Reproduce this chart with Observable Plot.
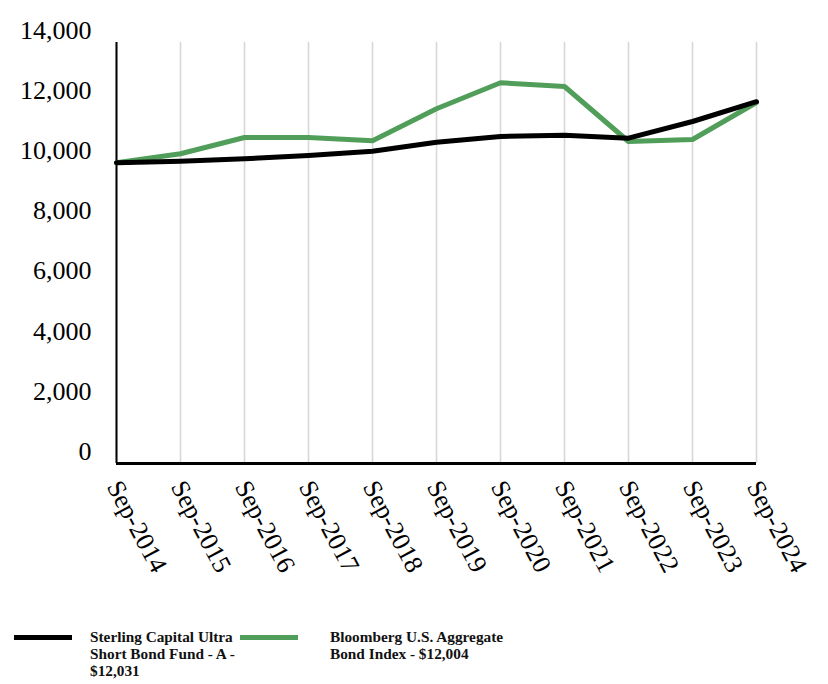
<!DOCTYPE html>
<html>
<head>
<meta charset="utf-8">
<script src="https://cdn.jsdelivr.net/npm/d3@7"></script>
<script src="https://cdn.jsdelivr.net/npm/@observablehq/plot@0.6"></script>
<style>
  html, body { margin: 0; padding: 0; background: #fff; }
  body { position: relative; width: 828px; height: 684px; font-family: "Liberation Serif", "Times New Roman", serif; }
  #chart svg { display: block; }
  .sw { position: absolute; height: 5px; }
  .lt { position: absolute; font-weight: bold; font-size: 15.3px; line-height: 17px; color: #111; white-space: nowrap; font-family: "Liberation Serif", serif; }
</style>
</head>
<body>
<div id="chart"></div>
<div class="sw" style="left:14px; top:635px; width:58px; background:#000;"></div>
<div class="lt" style="left:90px; top:628px;">Sterling Capital Ultra<br>Short Bond Fund - A -<br>$12,031</div>
<div class="sw" style="left:240px; top:635px; width:58px; background:#519e5a;"></div>
<div class="lt" style="left:330px; top:628px;">Bloomberg U.S. Aggregate<br>Bond Index - $12,004</div>
<script>
const dates = ["Sep-2014","Sep-2015","Sep-2016","Sep-2017","Sep-2018","Sep-2019","Sep-2020","Sep-2021","Sep-2022","Sep-2023","Sep-2024"];
const fundValues = [10000, 10053, 10133, 10243, 10386, 10685, 10875, 10918, 10818, 11373, 12031];
const indexValues = [10000, 10300, 10841, 10841, 10732, 11796, 12660, 12537, 10708, 10775, 12004];
const yTicks = [0, 2000, 4000, 6000, 8000, 10000, 12000, 14000];

const fundData = dates.map((d, i) => ({date: d, value: fundValues[i]}));
const indexData = dates.map((d, i) => ({date: d, value: indexValues[i]}));

const chart = Plot.plot({
  width: 828,
  height: 610,
  marginLeft: 116,
  marginRight: 72,
  marginTop: 42,
  marginBottom: 147,
  style: {fontFamily: '"Liberation Serif", "Times New Roman", serif', background: "#fff", color: "#000"},
  x: {type: "point", domain: dates, padding: 0},
  y: {domain: [0, 14000]},
  marks: [
    Plot.ruleX(dates, {stroke: "#d9d9d9", strokeWidth: 1.7}),
    Plot.axisY({ticks: yTicks, tickFormat: d3.format(","), tickSize: 0, tickPadding: 25, fontSize: 26, dy: -12, label: null}),
    Plot.axisX({tickSize: 0, tickRotate: 62, fontSize: 26, tickPadding: 19, dx: -3, label: null}),
    Plot.ruleX([dates[0]], {stroke: "#000", strokeWidth: 2}),
    Plot.ruleY([0], {stroke: "#000", strokeWidth: 3}),
    Plot.line(indexData, {x: "date", y: "value", stroke: "#519e5a", strokeWidth: 5}),
    Plot.line(fundData, {x: "date", y: "value", stroke: "#000", strokeWidth: 5})
  ]
});
document.getElementById("chart").appendChild(chart);
</script>
</body>
</html>
